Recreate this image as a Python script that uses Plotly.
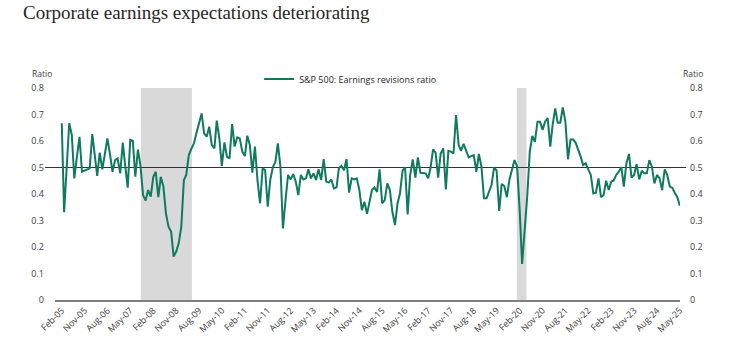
import pandas as pd
import plotly.graph_objects as go

# ---------------- data ----------------
start_month = "2005-02-01"
ratio = [
    0.667, 0.331, 0.500, 0.667, 0.623, 0.459, 0.540, 0.616, 0.484, 0.489,
    0.493, 0.497, 0.626, 0.550, 0.468, 0.556, 0.493, 0.550, 0.610, 0.550,
    0.484, 0.528, 0.534, 0.478, 0.594, 0.510, 0.424, 0.604, 0.601, 0.465,
    0.568, 0.506, 0.396, 0.375, 0.415, 0.390, 0.465, 0.484, 0.388, 0.465,
    0.428, 0.327, 0.277, 0.258, 0.164, 0.183, 0.214, 0.277, 0.453, 0.472,
    0.547, 0.570, 0.591, 0.629, 0.670, 0.704, 0.629, 0.616, 0.654, 0.585,
    0.572, 0.677, 0.610, 0.506, 0.595, 0.541, 0.534, 0.664, 0.579, 0.614,
    0.610, 0.560, 0.543, 0.620, 0.585, 0.481, 0.579, 0.453, 0.365, 0.497,
    0.490, 0.352, 0.453, 0.501, 0.522, 0.591, 0.503, 0.270, 0.377, 0.472,
    0.455, 0.475, 0.447, 0.396, 0.472, 0.455, 0.459, 0.493, 0.459, 0.478,
    0.453, 0.493, 0.453, 0.532, 0.447, 0.443, 0.455, 0.421, 0.425, 0.497,
    0.506, 0.490, 0.532, 0.405, 0.459, 0.455, 0.459, 0.415, 0.339, 0.371,
    0.325, 0.370, 0.415, 0.425, 0.408, 0.493, 0.365, 0.377, 0.440, 0.415,
    0.333, 0.283, 0.365, 0.402, 0.488, 0.501, 0.323, 0.472, 0.531, 0.462,
    0.538, 0.480, 0.480, 0.478, 0.459, 0.497, 0.568, 0.556, 0.462, 0.553,
    0.572, 0.417, 0.563, 0.560, 0.553, 0.698, 0.585, 0.563, 0.589, 0.563,
    0.538, 0.543, 0.547, 0.484, 0.551, 0.503, 0.384, 0.384, 0.415, 0.434,
    0.501, 0.488, 0.336, 0.438, 0.430, 0.388, 0.453, 0.491, 0.528, 0.505,
    0.339, 0.136, 0.251, 0.390, 0.560, 0.619, 0.597, 0.673, 0.673, 0.642,
    0.673, 0.686, 0.579, 0.660, 0.723, 0.669, 0.669, 0.727, 0.673, 0.531,
    0.606, 0.606, 0.594, 0.568, 0.540, 0.509, 0.516, 0.493, 0.472, 0.402,
    0.405, 0.459, 0.388, 0.396, 0.450, 0.415, 0.447, 0.450, 0.472, 0.484,
    0.501, 0.428, 0.516, 0.551, 0.462, 0.472, 0.513, 0.455, 0.488, 0.478,
    0.478, 0.528, 0.503, 0.440, 0.472, 0.459, 0.415, 0.493, 0.472, 0.428,
    0.423, 0.405, 0.388, 0.356,
]
dates = pd.date_range(start_month, periods=len(ratio), freq="MS")

tick_labels = [
    "Feb-05", "Nov-05", "Aug-06", "May-07", "Feb-08", "Nov-08", "Aug-09",
    "May-10", "Feb-11", "Nov-11", "Aug-12", "May-13", "Feb-14", "Nov-14",
    "Aug-15", "May-16", "Feb-17", "Nov-17", "Aug-18", "May-19", "Feb-20",
    "Nov-20", "Aug-21", "May-22", "Feb-23", "Nov-23", "Aug-24", "May-25",
]
tick_dates = pd.date_range(start_month, periods=len(tick_labels), freq="9MS")

y_ticks = [0, 0.1, 0.2, 0.3, 0.4, 0.5, 0.6, 0.7, 0.8]
recessions = [("2007-09-04", "2009-05-08"), ("2019-12-29", "2020-04-22")]
neutral_level = 0.5

series_name = "S&P 500: Earnings revisions ratio"
title_text = "Corporate earnings expectations deteriorating"

# ---------------- styling ----------------
GREEN = "#0f7a5d"
TXT = "#404040"
FONT = "Open Sans"

fig = go.Figure()
fig.add_trace(go.Scatter(
    x=dates, y=ratio, mode="lines", name=series_name,
    line=dict(color=GREEN, width=2), showlegend=True,
))
# invisible copy so the right-hand axis is drawn
fig.add_trace(go.Scatter(
    x=dates, y=ratio, mode="lines", yaxis="y2", showlegend=False,
    line=dict(color="rgba(0,0,0,0)", width=0), hoverinfo="skip",
))

for x0, x1 in recessions:
    fig.add_shape(type="rect", xref="x", yref="paper", x0=x0, x1=x1, y0=0, y1=1,
                  fillcolor="#d9d9d9", line=dict(width=0), layer="below")

fig.add_shape(type="line", xref="paper", yref="y", x0=-0.016, x1=1.0096,
              y0=neutral_level, y1=neutral_level,
              line=dict(color="#333333", width=1), layer="below")

axis_font = dict(family=FONT, size=9, color=TXT)

fig.update_layout(
    width=730, height=351,
    margin=dict(l=55, r=50, t=88, b=51, autoexpand=False),
    paper_bgcolor="white", plot_bgcolor="white",
    font=dict(family=FONT, size=9, color=TXT),
    xaxis=dict(
        type="date", range=["2004-11-12", "2025-05-03"],
        tickmode="array", tickvals=tick_dates, ticktext=tick_labels,
        tickangle=-45, tickfont=axis_font, showgrid=False, zeroline=False,
        showline=True, linecolor="#7f7f7f", linewidth=1.5, ticks="",
        automargin=False,
    ),
    yaxis=dict(
        range=[0, 0.8], tickmode="array", tickvals=y_ticks,
        ticktext=[f"{v:g}" for v in y_ticks], tickfont=axis_font,
        showgrid=False, zeroline=False, showline=False, ticks="",
        ticklabelstandoff=10, automargin=False,
    ),
    yaxis2=dict(
        range=[0, 0.8], overlaying="y", side="right", tickmode="array",
        tickvals=y_ticks, ticktext=[f"{v:g}" for v in y_ticks],
        tickfont=axis_font, showgrid=False, zeroline=False, showline=False,
        ticks="", ticklabelstandoff=9, automargin=False,
    ),
    legend=dict(
        orientation="h", x=0.473, xanchor="center", y=1.042, yanchor="middle",
        font=dict(family=FONT, size=9, color="#262626"), itemwidth=30,
        bgcolor="rgba(0,0,0,0)",
    ),
    annotations=[
        dict(text=title_text, xref="paper", yref="paper", x=-0.0544, y=1.356,
             xanchor="left", yanchor="middle", showarrow=False,
             font=dict(family="Liberation Serif", size=19, color="#262626")),
        dict(text="Ratio", xref="paper", yref="paper", x=-0.04, y=1.068,
             xanchor="left", yanchor="middle", showarrow=False,
             font=dict(family=FONT, size=8.5, color=TXT)),
        dict(text="Ratio", xref="paper", yref="paper", x=1.0016, y=1.068,
             xanchor="left", yanchor="middle", showarrow=False,
             font=dict(family=FONT, size=8.5, color=TXT)),
    ],
)

fig.write_html("out.html")
